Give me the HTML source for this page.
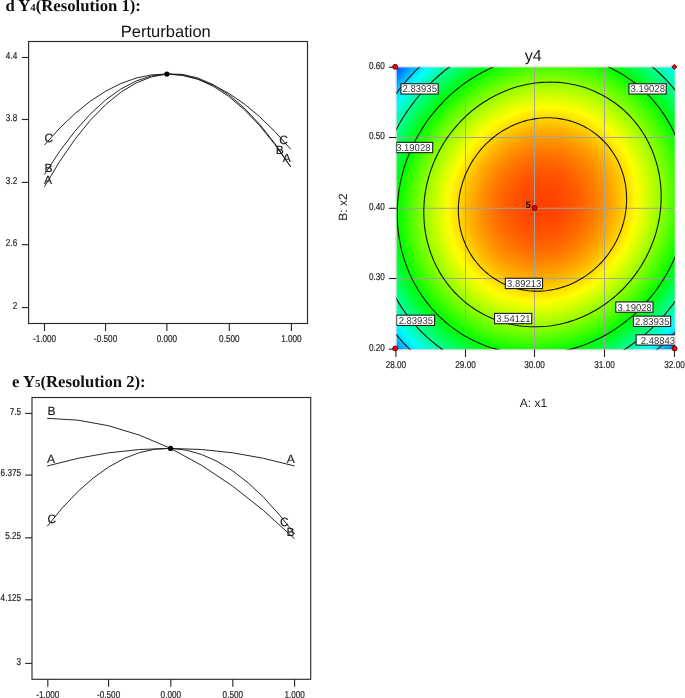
<!DOCTYPE html>
<html lang="en"><head><meta charset="utf-8"><title>Perturbation and contour plots</title>
<style>
html,body{margin:0;padding:0;background:#fff}
body{width:685px;height:698px;overflow:hidden}
svg{display:block;text-rendering:geometricPrecision;font-family:"Liberation Sans",Arial,sans-serif}
.h{font-family:"Liberation Serif","Times New Roman",serif;font-weight:bold;font-size:16.7px;fill:#111}
</style></head><body>
<svg width="685" height="698" viewBox="0 0 685 698">
<defs><radialGradient id="g" gradientUnits="userSpaceOnUse" cx="0" cy="0" r="1.47316" gradientTransform="matrix(141.11814 0.00000 -8.97200 145.76423 542.477 204.472)"><stop offset="0.0000" stop-color="#ff4100"/><stop offset="0.0167" stop-color="#ff4200"/><stop offset="0.0333" stop-color="#ff4200"/><stop offset="0.0500" stop-color="#ff4400"/><stop offset="0.0667" stop-color="#ff4600"/><stop offset="0.0833" stop-color="#ff4800"/><stop offset="0.1000" stop-color="#ff4b00"/><stop offset="0.1167" stop-color="#ff4e00"/><stop offset="0.1333" stop-color="#ff5200"/><stop offset="0.1500" stop-color="#ff5600"/><stop offset="0.1667" stop-color="#ff5b00"/><stop offset="0.1833" stop-color="#ff6000"/><stop offset="0.2000" stop-color="#ff6600"/><stop offset="0.2167" stop-color="#ff6d00"/><stop offset="0.2333" stop-color="#ff7400"/><stop offset="0.2500" stop-color="#ff7b00"/><stop offset="0.2667" stop-color="#ff8300"/><stop offset="0.2833" stop-color="#ff8b00"/><stop offset="0.3000" stop-color="#ff9400"/><stop offset="0.3167" stop-color="#ff9e00"/><stop offset="0.3333" stop-color="#ffa800"/><stop offset="0.3500" stop-color="#ffb200"/><stop offset="0.3667" stop-color="#ffbd00"/><stop offset="0.3833" stop-color="#ffc900"/><stop offset="0.4000" stop-color="#ffd500"/><stop offset="0.4167" stop-color="#ffe200"/><stop offset="0.4333" stop-color="#ffef00"/><stop offset="0.4500" stop-color="#fffc00"/><stop offset="0.4667" stop-color="#f4ff00"/><stop offset="0.4833" stop-color="#e5ff00"/><stop offset="0.5000" stop-color="#d6ff00"/><stop offset="0.5167" stop-color="#c6ff00"/><stop offset="0.5333" stop-color="#b6ff00"/><stop offset="0.5500" stop-color="#a6ff00"/><stop offset="0.5667" stop-color="#94ff00"/><stop offset="0.5833" stop-color="#83ff00"/><stop offset="0.6000" stop-color="#71ff00"/><stop offset="0.6167" stop-color="#5eff00"/><stop offset="0.6333" stop-color="#4bff00"/><stop offset="0.6500" stop-color="#37ff00"/><stop offset="0.6667" stop-color="#23ff00"/><stop offset="0.6833" stop-color="#0eff00"/><stop offset="0.7000" stop-color="#00ff07"/><stop offset="0.7167" stop-color="#00ff1d"/><stop offset="0.7333" stop-color="#00ff33"/><stop offset="0.7500" stop-color="#00ff4a"/><stop offset="0.7667" stop-color="#00ff62"/><stop offset="0.7833" stop-color="#00ff79"/><stop offset="0.8000" stop-color="#00ff92"/><stop offset="0.8167" stop-color="#00ffab"/><stop offset="0.8333" stop-color="#00ffc4"/><stop offset="0.8500" stop-color="#00ffde"/><stop offset="0.8667" stop-color="#00fff8"/><stop offset="0.8833" stop-color="#00ebff"/><stop offset="0.9000" stop-color="#00cfff"/><stop offset="0.9167" stop-color="#00b4ff"/><stop offset="0.9333" stop-color="#0097ff"/><stop offset="0.9500" stop-color="#007aff"/><stop offset="0.9667" stop-color="#005dff"/><stop offset="0.9833" stop-color="#003fff"/><stop offset="1.0000" stop-color="#0020ff"/></radialGradient>
<clipPath id="cp"><rect x="396.4" y="67.2" width="278.5" height="282.3"/></clipPath></defs>
<rect width="685" height="698" fill="#fff"/>
<text class="h" x="5.4" y="11.4">d Y<tspan font-size="10.8">4</tspan>(Resolution 1):</text>
<text class="h" x="12" y="386.8">e Y<tspan font-size="10.8">5</tspan>(Resolution 2):</text>
<text x="165.8" y="37.4" font-size="16.5" text-anchor="middle" fill="#111">Perturbation</text>
<rect x="28.6" y="41.5" width="278.9" height="282.0" fill="none" stroke="#2a2a2a" stroke-width="1.15"/><g stroke="#222" stroke-width="1.1"><line x1="44.5" y1="323.5" x2="44.5" y2="331.0"/><line x1="105.6" y1="323.5" x2="105.6" y2="331.0"/><line x1="166.9" y1="323.5" x2="166.9" y2="331.0"/><line x1="229.3" y1="323.5" x2="229.3" y2="331.0"/><line x1="291.4" y1="323.5" x2="291.4" y2="331.0"/><line x1="21.8" y1="57.5" x2="28.6" y2="57.5"/><line x1="21.8" y1="119.5" x2="28.6" y2="119.5"/><line x1="21.8" y1="182.4" x2="28.6" y2="182.4"/><line x1="21.8" y1="244.7" x2="28.6" y2="244.7"/><line x1="21.8" y1="307.6" x2="28.6" y2="307.6"/></g><g font-size="10.0" fill="#222" stroke="#222" stroke-width="0.2"><text transform="translate(44.50 342.00) scale(0.815 1)" text-anchor="middle">-1.000</text><text transform="translate(105.60 342.00) scale(0.815 1)" text-anchor="middle">-0.500</text><text transform="translate(166.90 342.00) scale(0.815 1)" text-anchor="middle">0.000</text><text transform="translate(229.30 342.00) scale(0.815 1)" text-anchor="middle">0.500</text><text transform="translate(291.40 342.00) scale(0.815 1)" text-anchor="middle">1.000</text><text transform="translate(17.20 58.70) scale(0.815 1)" text-anchor="end">4.4</text><text transform="translate(17.20 120.70) scale(0.815 1)" text-anchor="end">3.8</text><text transform="translate(17.20 183.60) scale(0.815 1)" text-anchor="end">3.2</text><text transform="translate(17.20 245.90) scale(0.815 1)" text-anchor="end">2.6</text><text transform="translate(17.20 308.80) scale(0.815 1)" text-anchor="end">2</text></g><g fill="none" stroke="#1a1a1a" stroke-width="0.95"><path d="M44.4 186.8 Q166.3 -28.7 290.6 166.6"/><path d="M44.4 174.5 Q166.3 -22.7 290.6 166.9"/><path d="M44.4 145.1 Q166.3 0.9 290.6 149.1"/></g><circle cx="166.9" cy="74.0" r="2.6" fill="#000"/><g font-size="12" fill="#1c1c1c" stroke="#1c1c1c" stroke-width="0.15"><text x="44.0" y="183.6" text-anchor="start">A</text><text x="290.8" y="162.4" text-anchor="end">A</text><text x="44.6" y="172.0" text-anchor="start">B</text><text x="283.8" y="153.8" text-anchor="end">B</text><text x="44.4" y="141.6" text-anchor="start">C</text><text x="288.0" y="144.0" text-anchor="end">C</text></g>
<rect x="32.0" y="397.5" width="278.7" height="281.8" fill="none" stroke="#2a2a2a" stroke-width="1.15"/><g stroke="#222" stroke-width="1.1"><line x1="47.8" y1="679.3" x2="47.8" y2="686.8"/><line x1="108.6" y1="679.3" x2="108.6" y2="686.8"/><line x1="170.8" y1="679.3" x2="170.8" y2="686.8"/><line x1="232.8" y1="679.3" x2="232.8" y2="686.8"/><line x1="294.6" y1="679.3" x2="294.6" y2="686.8"/><line x1="25.2" y1="413.4" x2="32.0" y2="413.4"/><line x1="25.2" y1="475.1" x2="32.0" y2="475.1"/><line x1="25.2" y1="537.8" x2="32.0" y2="537.8"/><line x1="25.2" y1="599.8" x2="32.0" y2="599.8"/><line x1="25.2" y1="663.4" x2="32.0" y2="663.4"/></g><g font-size="10.0" fill="#222" stroke="#222" stroke-width="0.2"><text transform="translate(47.80 697.60) scale(0.815 1)" text-anchor="middle">-1.000</text><text transform="translate(108.60 697.60) scale(0.815 1)" text-anchor="middle">-0.500</text><text transform="translate(170.80 697.60) scale(0.815 1)" text-anchor="middle">0.000</text><text transform="translate(232.80 697.60) scale(0.815 1)" text-anchor="middle">0.500</text><text transform="translate(294.60 697.60) scale(0.815 1)" text-anchor="middle">1.000</text><text transform="translate(21.00 414.60) scale(0.815 1)" text-anchor="end">7.5</text><text transform="translate(21.00 476.30) scale(0.815 1)" text-anchor="end">6.375</text><text transform="translate(21.00 539.00) scale(0.815 1)" text-anchor="end">5.25</text><text transform="translate(21.00 601.00) scale(0.815 1)" text-anchor="end">4.125</text><text transform="translate(21.00 664.60) scale(0.815 1)" text-anchor="end">3</text></g><g fill="none" stroke="#1a1a1a" stroke-width="0.95"><path d="M47.2 466.0 Q170.3 430.8 294.6 466.0"/><path d="M47.2 418.3 Q170.3 418.2 294.6 538.8"/><path d="M47.2 526.3 Q170.3 366.6 294.6 534.0"/></g><circle cx="170.6" cy="448.4" r="2.6" fill="#000"/><g font-size="12" fill="#1c1c1c" stroke="#1c1c1c" stroke-width="0.15"><text x="47.0" y="463.4" text-anchor="start">A</text><text x="294.8" y="463.4" text-anchor="end">A</text><text x="47.6" y="415.2" text-anchor="start">B</text><text x="294.6" y="535.6" text-anchor="end">B</text><text x="47.4" y="523.2" text-anchor="start">C</text><text x="288.6" y="525.8" text-anchor="end">C</text></g>
<rect x="396.4" y="67.2" width="278.5" height="282.3" fill="url(#g)"/>
<rect x="396.0" y="66.8" width="279.3" height="283.1" fill="none" stroke="#e4d6d6" stroke-width="1"/>
<g stroke="#a3a396" stroke-width="1" fill="none"><line x1="465.5" y1="67.2" x2="465.5" y2="349.5"/><line x1="534.5" y1="67.2" x2="534.5" y2="349.5"/><line x1="604.5" y1="67.2" x2="604.5" y2="349.5"/><line x1="396.4" y1="137.5" x2="674.9" y2="137.5"/><line x1="396.4" y1="208.3" x2="674.9" y2="208.3"/><line x1="396.4" y1="278.5" x2="674.9" y2="278.5"/></g>
<g clip-path="url(#cp)"><g fill="none" stroke="#141400" stroke-width="1.1"><polygon points="626.4,204.5 626.2,207.5 625.9,210.5 625.4,213.5 624.9,216.5 624.2,219.5 623.5,222.5 622.6,225.5 621.7,228.4 620.7,231.3 619.5,234.1 618.3,237.0 617.0,239.7 615.6,242.5 614.1,245.2 612.5,247.8 610.8,250.4 609.1,253.0 607.3,255.4 605.3,257.9 603.4,260.2 601.3,262.5 599.2,264.7 597.0,266.8 594.7,268.9 592.4,270.9 590.0,272.8 587.5,274.6 585.0,276.4 582.4,278.0 579.8,279.6 577.2,281.0 574.5,282.4 571.7,283.7 569.0,284.9 566.2,286.0 563.3,286.9 560.5,287.8 557.6,288.6 554.7,289.3 551.8,289.9 548.9,290.3 545.9,290.7 543.0,291.0 540.1,291.1 537.1,291.2 534.2,291.1 531.3,291.0 528.4,290.7 525.5,290.3 522.6,289.9 519.8,289.3 517.0,288.6 514.2,287.8 511.5,286.9 508.7,286.0 506.1,284.9 503.5,283.7 500.9,282.4 498.4,281.0 495.9,279.6 493.5,278.0 491.1,276.4 488.8,274.6 486.6,272.8 484.4,270.9 482.3,268.9 480.3,266.8 478.4,264.7 476.5,262.5 474.7,260.2 473.0,257.9 471.4,255.4 469.9,253.0 468.5,250.4 467.1,247.8 465.8,245.2 464.7,242.5 463.6,239.7 462.6,237.0 461.8,234.1 461.0,231.3 460.3,228.4 459.7,225.5 459.3,222.5 458.9,219.5 458.6,216.5 458.4,213.5 458.4,210.5 458.4,207.5 458.5,204.5 458.8,201.4 459.1,198.4 459.5,195.4 460.1,192.4 460.7,189.4 461.5,186.4 462.3,183.5 463.2,180.6 464.3,177.7 465.4,174.8 466.6,172.0 468.0,169.2 469.4,166.5 470.9,163.8 472.4,161.1 474.1,158.5 475.9,156.0 477.7,153.5 479.6,151.1 481.6,148.7 483.7,146.4 485.8,144.2 488.0,142.1 490.3,140.0 492.6,138.0 495.0,136.1 497.4,134.3 500.0,132.6 502.5,130.9 505.1,129.4 507.8,127.9 510.5,126.5 513.2,125.3 516.0,124.1 518.8,123.0 521.6,122.0 524.5,121.1 527.3,120.3 530.2,119.7 533.2,119.1 536.1,118.6 539.0,118.2 541.9,118.0 544.9,117.8 547.8,117.8 550.7,117.8 553.7,118.0 556.6,118.2 559.4,118.6 562.3,119.1 565.2,119.7 568.0,120.3 570.7,121.1 573.5,122.0 576.2,123.0 578.9,124.1 581.5,125.3 584.1,126.5 586.6,127.9 589.1,129.4 591.5,130.9 593.8,132.6 596.1,134.3 598.4,136.1 600.5,138.0 602.6,140.0 604.6,142.1 606.6,144.2 608.4,146.4 610.2,148.7 611.9,151.1 613.5,153.5 615.1,156.0 616.5,158.5 617.9,161.1 619.1,163.8 620.3,166.5 621.3,169.2 622.3,172.0 623.2,174.8 624.0,177.7 624.6,180.6 625.2,183.5 625.7,186.4 626.1,189.4 626.4,192.4 626.5,195.4 626.6,198.4 626.6,201.4 626.4,204.5"/><polygon points="661.0,204.5 660.6,208.7 660.1,213.0 659.5,217.3 658.8,221.5 657.8,225.7 656.8,229.9 655.6,234.1 654.3,238.2 652.8,242.3 651.2,246.3 649.5,250.3 647.6,254.2 645.7,258.1 643.5,261.9 641.3,265.7 639.0,269.3 636.5,272.9 633.9,276.4 631.2,279.8 628.4,283.1 625.5,286.4 622.5,289.5 619.4,292.5 616.2,295.4 612.9,298.2 609.5,300.9 606.0,303.5 602.5,305.9 598.9,308.3 595.2,310.5 591.4,312.5 587.6,314.5 583.8,316.3 579.9,317.9 575.9,319.5 571.9,320.9 567.9,322.1 563.8,323.2 559.7,324.2 555.6,325.0 551.5,325.7 547.4,326.2 543.2,326.5 539.1,326.8 534.9,326.8 530.8,326.8 526.7,326.5 522.6,326.2 518.5,325.7 514.5,325.0 510.5,324.2 506.5,323.2 502.6,322.1 498.7,320.9 494.9,319.5 491.1,317.9 487.4,316.3 483.8,314.5 480.2,312.5 476.7,310.5 473.3,308.3 470.0,305.9 466.7,303.5 463.6,300.9 460.6,298.2 457.6,295.4 454.8,292.5 452.0,289.5 449.4,286.4 446.9,283.1 444.5,279.8 442.2,276.4 440.0,272.9 438.0,269.3 436.1,265.7 434.3,261.9 432.7,258.1 431.2,254.2 429.8,250.3 428.6,246.3 427.5,242.3 426.5,238.2 425.7,234.1 425.0,229.9 424.5,225.7 424.1,221.5 423.9,217.3 423.8,213.0 423.8,208.7 424.0,204.5 424.3,200.2 424.8,195.9 425.4,191.7 426.2,187.4 427.1,183.2 428.2,179.0 429.3,174.9 430.7,170.7 432.1,166.7 433.7,162.6 435.5,158.6 437.3,154.7 439.3,150.8 441.4,147.0 443.6,143.3 446.0,139.6 448.5,136.0 451.1,132.5 453.8,129.1 456.6,125.8 459.5,122.6 462.5,119.5 465.6,116.4 468.8,113.5 472.1,110.7 475.5,108.0 478.9,105.5 482.5,103.0 486.1,100.7 489.8,98.5 493.5,96.4 497.3,94.5 501.2,92.7 505.1,91.0 509.0,89.5 513.0,88.1 517.1,86.8 521.1,85.7 525.2,84.8 529.3,84.0 533.4,83.3 537.6,82.8 541.7,82.4 545.9,82.2 550.0,82.1 554.1,82.2 558.3,82.4 562.4,82.8 566.4,83.3 570.5,84.0 574.5,84.8 578.4,85.7 582.4,86.8 586.3,88.1 590.1,89.5 593.8,91.0 597.5,92.7 601.2,94.5 604.7,96.4 608.2,98.5 611.6,100.7 615.0,103.0 618.2,105.5 621.4,108.0 624.4,110.7 627.4,113.5 630.2,116.4 632.9,119.5 635.6,122.6 638.1,125.8 640.5,129.1 642.8,132.5 644.9,136.0 646.9,139.6 648.8,143.3 650.6,147.0 652.3,150.8 653.8,154.7 655.1,158.6 656.4,162.6 657.5,166.7 658.4,170.7 659.3,174.9 659.9,179.0 660.5,183.2 660.8,187.4 661.1,191.7 661.2,195.9 661.1,200.2 661.0,204.5"/><polygon points="687.5,204.5 687.1,209.7 686.5,214.9 685.7,220.1 684.8,225.3 683.7,230.5 682.4,235.6 680.9,240.7 679.3,245.8 677.5,250.8 675.6,255.7 673.5,260.6 671.2,265.4 668.8,270.1 666.2,274.8 663.4,279.4 660.6,283.8 657.5,288.2 654.4,292.5 651.1,296.7 647.6,300.7 644.1,304.7 640.4,308.5 636.6,312.2 632.7,315.8 628.6,319.2 624.5,322.5 620.2,325.6 615.9,328.6 611.5,331.5 607.0,334.2 602.4,336.7 597.8,339.1 593.0,341.3 588.2,343.3 583.4,345.2 578.5,346.9 573.6,348.4 568.6,349.8 563.6,351.0 558.6,352.0 553.5,352.8 548.5,353.4 543.4,353.9 538.3,354.2 533.3,354.2 528.2,354.2 523.2,353.9 518.2,353.4 513.2,352.8 508.2,352.0 503.3,351.0 498.5,349.8 493.6,348.4 488.9,346.9 484.2,345.2 479.6,343.3 475.1,341.3 470.6,339.1 466.3,336.7 462.0,334.2 457.8,331.5 453.8,328.6 449.8,325.6 445.9,322.5 442.2,319.2 438.6,315.8 435.1,312.2 431.8,308.5 428.6,304.7 425.5,300.7 422.5,296.7 419.8,292.5 417.1,288.2 414.6,283.8 412.3,279.4 410.1,274.8 408.1,270.1 406.3,265.4 404.6,260.6 403.1,255.7 401.7,250.8 400.6,245.8 399.6,240.7 398.7,235.6 398.1,230.5 397.6,225.3 397.3,220.1 397.2,214.9 397.2,209.7 397.5,204.5 397.9,199.2 398.5,194.0 399.2,188.8 400.2,183.6 401.3,178.5 402.6,173.3 404.0,168.2 405.6,163.2 407.4,158.2 409.4,153.2 411.5,148.4 413.8,143.6 416.2,138.8 418.8,134.2 421.5,129.6 424.4,125.1 427.4,120.7 430.6,116.4 433.9,112.3 437.3,108.2 440.9,104.3 444.6,100.4 448.4,96.7 452.3,93.2 456.3,89.7 460.5,86.4 464.7,83.3 469.0,80.3 473.5,77.5 478.0,74.8 482.5,72.2 487.2,69.9 491.9,67.6 496.7,65.6 501.5,63.7 506.4,62.0 511.4,60.5 516.3,59.1 521.3,58.0 526.4,57.0 531.4,56.2 536.5,55.5 541.6,55.1 546.6,54.8 551.7,54.7 556.8,54.8 561.8,55.1 566.8,55.5 571.8,56.2 576.7,57.0 581.6,58.0 586.5,59.1 591.3,60.5 596.1,62.0 600.7,63.7 605.3,65.6 609.9,67.6 614.3,69.9 618.7,72.2 623.0,74.8 627.1,77.5 631.2,80.3 635.2,83.3 639.0,86.4 642.7,89.7 646.4,93.2 649.8,96.7 653.2,100.4 656.4,104.3 659.5,108.2 662.4,112.3 665.2,116.4 667.8,120.7 670.3,125.1 672.7,129.6 674.8,134.2 676.8,138.8 678.7,143.6 680.4,148.4 681.9,153.2 683.2,158.2 684.4,163.2 685.4,168.2 686.2,173.3 686.9,178.5 687.3,183.6 687.6,188.8 687.8,194.0 687.7,199.2 687.5,204.5"/><polygon points="709.8,204.5 709.4,210.5 708.7,216.5 707.8,222.5 706.7,228.5 705.5,234.5 704.0,240.4 702.3,246.3 700.4,252.1 698.4,257.9 696.1,263.6 693.7,269.2 691.1,274.8 688.2,280.3 685.3,285.6 682.1,290.9 678.8,296.1 675.3,301.1 671.6,306.1 667.8,310.9 663.9,315.6 659.7,320.2 655.5,324.6 651.1,328.8 646.6,332.9 641.9,336.9 637.1,340.7 632.2,344.3 627.2,347.8 622.1,351.1 616.9,354.2 611.7,357.1 606.3,359.9 600.8,362.4 595.3,364.8 589.7,366.9 584.1,368.9 578.4,370.7 572.6,372.2 566.9,373.6 561.1,374.7 555.2,375.7 549.4,376.4 543.5,376.9 537.7,377.2 531.8,377.4 526.0,377.2 520.2,376.9 514.4,376.4 508.6,375.7 502.9,374.7 497.3,373.6 491.7,372.2 486.1,370.7 480.6,368.9 475.2,366.9 469.9,364.8 464.7,362.4 459.5,359.9 454.5,357.1 449.6,354.2 444.8,351.1 440.1,347.8 435.5,344.3 431.0,340.7 426.7,336.9 422.6,332.9 418.6,328.8 414.7,324.6 411.0,320.2 407.4,315.6 404.0,310.9 400.8,306.1 397.8,301.1 394.9,296.1 392.2,290.9 389.7,285.6 387.4,280.3 385.2,274.8 383.3,269.2 381.6,263.6 380.0,257.9 378.7,252.1 377.5,246.3 376.6,240.4 375.8,234.5 375.3,228.5 374.9,222.5 374.8,216.5 374.8,210.5 375.1,204.5 375.6,198.4 376.3,192.4 377.1,186.4 378.2,180.4 379.5,174.5 381.0,168.5 382.7,162.6 384.5,156.8 386.6,151.0 388.8,145.3 391.3,139.7 393.9,134.2 396.7,128.7 399.7,123.3 402.8,118.0 406.2,112.9 409.7,107.8 413.3,102.9 417.1,98.0 421.1,93.3 425.2,88.8 429.5,84.4 433.9,80.1 438.4,76.0 443.0,72.0 447.8,68.2 452.7,64.6 457.7,61.1 462.8,57.9 468.0,54.8 473.3,51.8 478.7,49.1 484.1,46.5 489.6,44.2 495.2,42.0 500.9,40.1 506.6,38.3 512.3,36.7 518.1,35.4 523.9,34.2 529.7,33.3 535.6,32.5 541.4,32.0 547.3,31.7 553.1,31.6 559.0,31.7 564.8,32.0 570.6,32.5 576.3,33.3 582.0,34.2 587.7,35.4 593.3,36.7 598.8,38.3 604.3,40.1 609.7,42.0 615.0,44.2 620.3,46.5 625.4,49.1 630.4,51.8 635.4,54.8 640.2,57.9 644.9,61.1 649.5,64.6 653.9,68.2 658.2,72.0 662.4,76.0 666.4,80.1 670.3,84.4 674.0,88.8 677.5,93.3 680.9,98.0 684.1,102.9 687.2,107.8 690.1,112.9 692.7,118.0 695.3,123.3 697.6,128.7 699.7,134.2 701.6,139.7 703.4,145.3 704.9,151.0 706.3,156.8 707.5,162.6 708.4,168.5 709.2,174.5 709.7,180.4 710.0,186.4 710.2,192.4 710.1,198.4 709.8,204.5"/><polygon points="729.6,204.5 729.0,211.2 728.3,218.0 727.3,224.7 726.1,231.4 724.7,238.0 723.0,244.6 721.1,251.2 719.0,257.7 716.7,264.2 714.2,270.6 711.5,276.9 708.6,283.1 705.4,289.2 702.1,295.2 698.6,301.1 694.8,306.9 690.9,312.5 686.8,318.1 682.6,323.4 678.1,328.7 673.6,333.8 668.8,338.7 663.9,343.5 658.8,348.1 653.6,352.5 648.3,356.8 642.8,360.8 637.2,364.7 631.5,368.4 625.7,371.8 619.8,375.1 613.8,378.2 607.7,381.0 601.5,383.6 595.3,386.1 589.0,388.3 582.6,390.2 576.2,392.0 569.7,393.5 563.3,394.8 556.7,395.8 550.2,396.7 543.7,397.2 537.1,397.6 530.6,397.7 524.1,397.6 517.6,397.2 511.1,396.7 504.7,395.8 498.3,394.8 491.9,393.5 485.7,392.0 479.5,390.2 473.4,388.3 467.3,386.1 461.4,383.6 455.5,381.0 449.8,378.2 444.1,375.1 438.6,371.8 433.2,368.4 428.0,364.7 422.9,360.8 417.9,356.8 413.1,352.5 408.5,348.1 404.0,343.5 399.6,338.7 395.5,333.8 391.5,328.7 387.7,323.4 384.1,318.1 380.7,312.5 377.5,306.9 374.5,301.1 371.7,295.2 369.1,289.2 366.7,283.1 364.6,276.9 362.6,270.6 360.9,264.2 359.4,257.7 358.1,251.2 357.0,244.6 356.2,238.0 355.6,231.4 355.2,224.7 355.0,218.0 355.1,211.2 355.4,204.5 355.9,197.7 356.7,191.0 357.7,184.3 358.9,177.6 360.3,170.9 362.0,164.3 363.8,157.7 365.9,151.2 368.2,144.8 370.7,138.4 373.5,132.1 376.4,125.9 379.5,119.8 382.9,113.7 386.4,107.8 390.1,102.1 394.0,96.4 398.1,90.9 402.4,85.5 406.8,80.3 411.4,75.2 416.2,70.2 421.1,65.5 426.1,60.9 431.3,56.4 436.7,52.2 442.1,48.1 447.7,44.3 453.4,40.6 459.2,37.1 465.1,33.8 471.2,30.8 477.2,27.9 483.4,25.3 489.7,22.9 496.0,20.7 502.3,18.7 508.8,17.0 515.2,15.4 521.7,14.2 528.2,13.1 534.8,12.3 541.3,11.7 547.8,11.3 554.4,11.2 560.9,11.3 567.4,11.7 573.9,12.3 580.3,13.1 586.7,14.2 593.0,15.4 599.3,17.0 605.5,18.7 611.6,20.7 617.6,22.9 623.6,25.3 629.4,27.9 635.2,30.8 640.8,33.8 646.3,37.1 651.7,40.6 657.0,44.3 662.1,48.1 667.0,52.2 671.8,56.4 676.5,60.9 681.0,65.5 685.3,70.2 689.5,75.2 693.4,80.3 697.2,85.5 700.8,90.9 704.2,96.4 707.4,102.1 710.4,107.8 713.3,113.7 715.8,119.8 718.2,125.9 720.4,132.1 722.4,138.4 724.1,144.8 725.6,151.2 726.9,157.7 727.9,164.3 728.8,170.9 729.4,177.6 729.8,184.3 729.9,191.0 729.9,197.7 729.6,204.5"/></g>
<g font-family="Liberation Sans, Arial, sans-serif"><rect x="400.95" y="83.75" width="37.20" height="10.30" fill="#fff" stroke="#1a1a1a" stroke-width="1.1"/><text transform="translate(419.75 92.45) scale(0.950 1)" text-anchor="middle" font-size="10.0" fill="#363636">2.83935</text><rect x="396.50" y="142.35" width="36.20" height="10.30" fill="#fff" stroke="#1a1a1a" stroke-width="1.1"/><text transform="translate(413.30 151.05) scale(0.950 1)" text-anchor="middle" font-size="10.0" fill="#363636">3.19028</text><rect x="628.95" y="83.75" width="37.20" height="10.30" fill="#fff" stroke="#1a1a1a" stroke-width="1.1"/><text transform="translate(647.75 92.45) scale(0.950 1)" text-anchor="middle" font-size="10.0" fill="#363636">3.19028</text><rect x="505.35" y="278.25" width="37.20" height="10.30" fill="#fff" stroke="#1a1a1a" stroke-width="1.1"/><text transform="translate(524.15 286.95) scale(0.950 1)" text-anchor="middle" font-size="10.0" fill="#363636">3.89213</text><rect x="494.55" y="313.40" width="37.20" height="10.30" fill="#fff" stroke="#1a1a1a" stroke-width="1.1"/><text transform="translate(513.35 322.10) scale(0.950 1)" text-anchor="middle" font-size="10.0" fill="#363636">3.54121</text><rect x="615.80" y="301.95" width="37.20" height="10.30" fill="#fff" stroke="#1a1a1a" stroke-width="1.1"/><text transform="translate(634.60 310.65) scale(0.950 1)" text-anchor="middle" font-size="10.0" fill="#363636">3.19028</text><rect x="633.45" y="316.15" width="37.20" height="10.30" fill="#fff" stroke="#1a1a1a" stroke-width="1.1"/><text transform="translate(652.25 324.85) scale(0.950 1)" text-anchor="middle" font-size="10.0" fill="#363636">2.83935</text><rect x="636.10" y="334.80" width="43.30" height="10.30" fill="#fff" stroke="#1a1a1a" stroke-width="1.1"/><text transform="translate(657.90 343.50) scale(0.950 1)" text-anchor="middle" font-size="10.0" fill="#363636">2.48843</text><rect x="396.60" y="315.15" width="38.00" height="10.30" fill="#fff" stroke="#1a1a1a" stroke-width="1.1"/><text transform="translate(415.80 323.85) scale(0.950 1)" text-anchor="middle" font-size="10.0" fill="#363636">2.83935</text></g></g>
<g stroke="#222" stroke-width="1.1"><line x1="395.9" y1="349.5" x2="395.9" y2="357.0"/><line x1="465.5" y1="349.5" x2="465.5" y2="357.0"/><line x1="534.5" y1="349.5" x2="534.5" y2="357.0"/><line x1="604.5" y1="349.5" x2="604.5" y2="357.0"/><line x1="674.5" y1="349.5" x2="674.5" y2="357.0"/><line x1="388.9" y1="67.2" x2="396.4" y2="67.2"/><line x1="388.9" y1="137.5" x2="396.4" y2="137.5"/><line x1="388.9" y1="208.3" x2="396.4" y2="208.3"/><line x1="388.9" y1="278.5" x2="396.4" y2="278.5"/><line x1="388.9" y1="349.2" x2="396.4" y2="349.2"/></g>
<g font-size="10.0" fill="#222" stroke="#222" stroke-width="0.2"><text transform="translate(395.90 368.30) scale(0.815 1)" text-anchor="middle">28.00</text><text transform="translate(465.50 368.30) scale(0.815 1)" text-anchor="middle">29.00</text><text transform="translate(534.50 368.30) scale(0.815 1)" text-anchor="middle">30.00</text><text transform="translate(604.50 368.30) scale(0.815 1)" text-anchor="middle">31.00</text><text transform="translate(674.50 368.30) scale(0.815 1)" text-anchor="middle">32.00</text><text transform="translate(384.80 68.80) scale(0.815 1)" text-anchor="end">0.60</text><text transform="translate(384.80 139.10) scale(0.815 1)" text-anchor="end">0.50</text><text transform="translate(384.80 209.90) scale(0.815 1)" text-anchor="end">0.40</text><text transform="translate(384.80 280.10) scale(0.815 1)" text-anchor="end">0.30</text><text transform="translate(384.80 350.80) scale(0.815 1)" text-anchor="end">0.20</text></g>
<g fill="#f00000" stroke="#400" stroke-width="0.8"><circle cx="395.2" cy="66.8" r="2.5"/><circle cx="395.2" cy="348.4" r="2.5"/><circle cx="674.6" cy="348.4" r="2.5"/><circle cx="534.6" cy="207.9" r="2.5"/><polygon points="674.4,64.2 677.0,66.8 674.4,69.4 671.8,66.8"/></g>
<text x="530.9" y="208.3" font-size="9.6" font-weight="bold" text-anchor="end" fill="#111">5</text>
<text x="533.3" y="61.4" font-size="16" text-anchor="middle" fill="#1a1a1a">y4</text>
<text x="533.4" y="406.6" font-size="12" text-anchor="middle" fill="#222">A: x1</text>
<text transform="translate(347.2 207) rotate(-90)" font-size="12" text-anchor="middle" fill="#222">B: x2</text>
</svg>
</body></html>
